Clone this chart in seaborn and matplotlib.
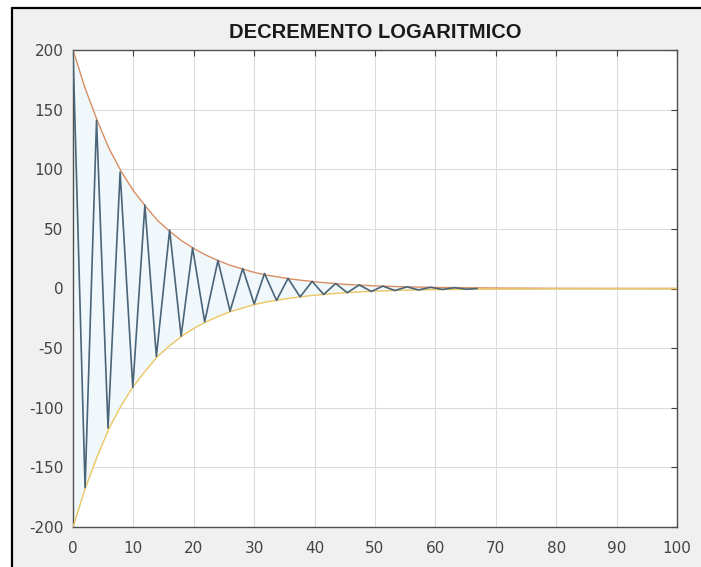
import matplotlib
matplotlib.use("Agg")
import matplotlib.pyplot as plt
from matplotlib.lines import Line2D
from matplotlib.patches import Rectangle
import seaborn as sns
import pandas as pd

# extremes of the damped oscillation (time, value)
peak_t = [0, 2.0, 3.9, 5.8, 7.8, 9.9, 11.9, 13.8, 16.0, 17.9, 19.8, 21.8,
          24.0, 26.0, 28.1, 30.0, 31.7, 33.7, 35.6, 37.6, 39.6, 41.5, 43.5,
          45.4, 47.4, 49.4, 51.3, 53.3, 55.3, 57.2, 59.2, 61.2, 63.2, 65.1, 66.9]
peak_v = [200, -167, 141, -117, 97.5, -83, 70, -57, 49, -40, 34, -28,
          23.5, -19, 16.8, -13, 12.6, -10, 8.5, -7, 6, -5, 4.2,
          -3.5, 3, -2.5, 2, -1.7, 1.4, -1.2, 1, -0.8, 0.7, -0.6, 0]

# envelope curve (upper)
env_t = [0, 2, 4, 6, 8, 10, 12, 14, 16, 18, 20, 22, 24, 26, 28, 30, 32,
         36, 40, 45, 50, 55, 60, 70, 80, 100]
env_up = [200, 168, 141, 117, 98, 82, 69, 57, 48, 40, 33.5, 28, 23.5, 19.5,
          16.5, 13.5, 11.3, 8, 5.6, 3.5, 2.2, 1.4, 0.9, 0.4, 0.15, 0]
env_lo = [-v for v in env_up]

x_ticks = [0, 10, 20, 30, 40, 50, 60, 70, 80, 90, 100]
y_ticks = [-200, -150, -100, -50, 0, 50, 100, 150, 200]
title = "DECREMENTO LOGARITMICO"

sig = pd.DataFrame({"t": peak_t, "v": peak_v})
env = pd.DataFrame({"t": env_t, "up": env_up, "lo": env_lo})

sns.set_theme(style="whitegrid")
plt.rcParams["font.family"] = ["DejaVu Sans"]
plt.rcParams["axes.unicode_minus"] = False

fig = plt.figure(figsize=(7.01, 5.67), dpi=100, facecolor="#f0f0f0")
ax = fig.add_axes([73 / 701, 1 - 527 / 567, (677 - 73) / 701, (527 - 50) / 567])
ax.set_facecolor("white")

# faint halo inside the envelopes where the signal lives
inside = env[env["t"] <= 67]
ax.fill_between(inside["t"], inside["lo"], inside["up"], color="#f1f8fc", lw=0, zorder=1)

sns.lineplot(data=env, x="t", y="up", ax=ax, color="#d98e62", lw=1.0,
             estimator=None, sort=False, zorder=3)
sns.lineplot(data=env, x="t", y="lo", ax=ax, color="#edc660", lw=1.0,
             estimator=None, sort=False, zorder=3)
sns.lineplot(data=sig, x="t", y="v", ax=ax, color="#4a6478", lw=1.2,
             estimator=None, sort=False, zorder=4)

ax.set_xlim(0, 100)
ax.set_ylim(-200, 200)
ax.set_xticks(x_ticks)
ax.set_yticks(y_ticks)
ax.set_xlabel("")
ax.set_ylabel("")
ax.grid(True, color="#dcdcdc", lw=0.8)
ax.tick_params(direction="in", length=4, width=0.8, color="#404040",
               top=True, right=True, labelsize=11, labelcolor="#444444")
ax.tick_params(axis="x", pad=10)
ax.tick_params(axis="y", pad=7)
for s in ax.spines.values():
    s.set_color("#505050")
    s.set_linewidth(1.0)

ax.set_title(title, family="Liberation Sans", fontweight="bold", fontsize=14.5,
             color="#1a1a1a", pad=9)

# window frame of the screenshot: white margin and black edge top/left
fig.patches.append(Rectangle((0, 1 - 8 / 567), 1, 8 / 567, transform=fig.transFigure,
                             color="white", zorder=0))
fig.patches.append(Rectangle((0, 0), 12 / 701, 1, transform=fig.transFigure,
                             color="white", zorder=0))
fig.lines.append(Line2D([12 / 701, 1], [1 - 8 / 567, 1 - 8 / 567],
                        transform=fig.transFigure, color="black", lw=1.6))
fig.lines.append(Line2D([12 / 701, 12 / 701], [0, 1 - 8 / 567],
                        transform=fig.transFigure, color="black", lw=1.6))

fig.savefig("out.png", dpi=100, facecolor=fig.get_facecolor())
